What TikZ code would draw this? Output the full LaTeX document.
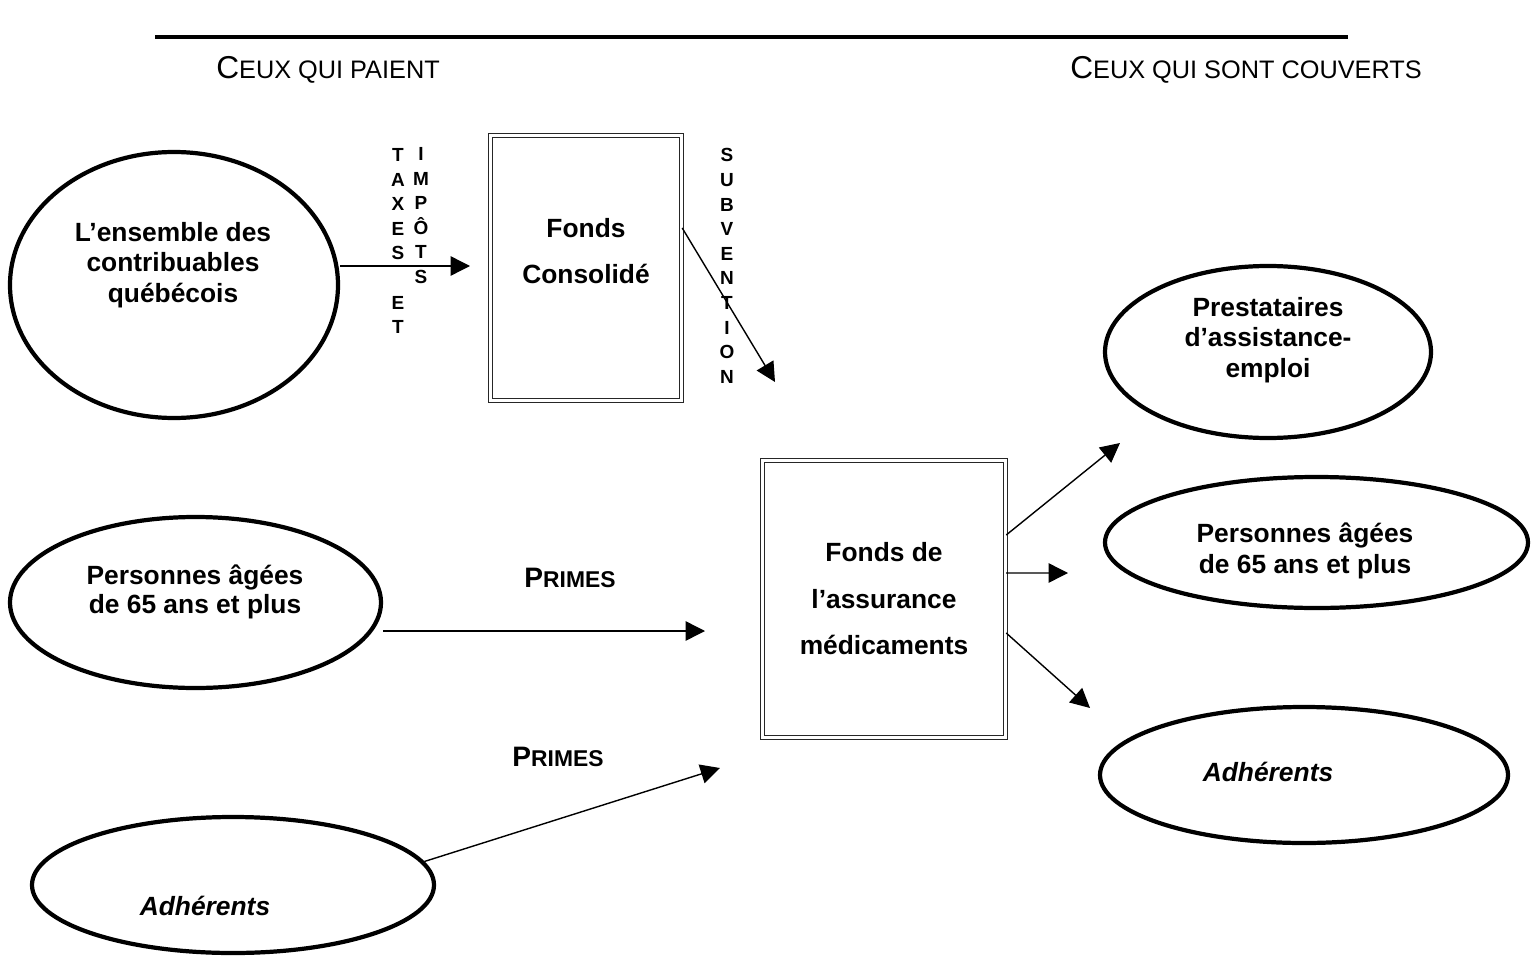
\documentclass[tikz,border=0pt]{standalone}
\usepackage{fontspec}
\setmainfont{Liberation Sans}
\usetikzlibrary{arrows.meta,positioning,calc,shapes.geometric}
\newcommand{\capsA}[1]{{\fontsize{18}{20}\selectfont #1}}
\newcommand{\capsB}[1]{{\fontsize{16}{18}\selectfont #1}}

\begin{document}
\begin{tikzpicture}[
    oval/.style={ellipse, draw, line width=2.4pt, inner sep=0pt},
    ovaltext/.style={align=center, font=\bfseries\fontsize{15}{17.5}\selectfont},
    fund/.style={rectangle, draw=black!85, double, line width=0.8pt, double distance=1.5pt, align=center, font=\bfseries\fundfont},
    fundtext/.style={align=center, font=\bfseries\fundfont},
    letters/.style={align=center, font=\bfseries\fontsize{10.8}{14}\selectfont},
    heading/.style={font=\fontsize{14.4}{16}\selectfont},
    flow/.style={-{Triangle[length=11pt, width=11pt]}, line width=0.8pt}
]
    \def\fundfont{\fontsize{15}{26.5}\selectfont}
    \useasboundingbox (0,0) rectangle (30.78,-19.52);

    % title rule and headings
    \coordinate (ruleL) at (3.1,-0.74);
    \coordinate (ruleR) at (26.96,-0.74);
    \draw[line width=2pt] (ruleL) -- (ruleR);
    \node[heading] (payers) at (6.56,-1.4) {\capsA{C}EUX QUI PAIENT};
    \node[heading] (covered) at (24.92,-1.4) {\capsA{C}EUX QUI SONT COUVERTS};

    % those who pay
    \node[oval, minimum width=6.56cm, minimum height=5.32cm] (contrib) at (3.48,-5.7) {};
    \node[ovaltext] (contribtxt) at (3.46,-5.3) {L’ensemble des\\contribuables\\québécois};
    \node[oval, minimum width=7.42cm, minimum height=3.42cm] (persL) at (3.91,-12.05) {};
    \node[ovaltext, font=\bfseries\fontsize{15}{16.5}\selectfont] (persLtxt) at (3.9,-11.84) {Personnes âgées\\de 65 ans et plus};
    \node[oval, minimum width=8.04cm, minimum height=2.72cm] (adhL) at (4.66,-17.7) {};
    \node[ovaltext, font=\bfseries\itshape\fontsize{15}{17.5}\selectfont] (adhLtxt) at (4.1,-18.12) {Adhérents};

    % funds
    \node[fund, minimum width=3.82cm, minimum height=5.3cm] (consol) at (11.72,-5.36) {};
    \node[fundtext] (consoltxt) at (11.72,-5.02) {Fonds\\Consolidé};
    \node[fund, minimum width=4.86cm, minimum height=5.54cm] (fam) at (17.68,-11.98) {Fonds de\\l’assurance\\médicaments};

    % those who are covered
    \node[oval, minimum width=6.52cm, minimum height=3.44cm] (prest) at (25.36,-7.04) {};
    \node[ovaltext] (presttxt) at (25.36,-6.8) {Prestataires\\d’assistance-\\emploi};
    \node[oval, minimum width=8.46cm, minimum height=2.62cm] (persR) at (26.33,-10.85) {};
    \node[ovaltext, font=\bfseries\fontsize{15}{18}\selectfont] (persRtxt) at (26.1,-11.02) {Personnes âgées\\de 65 ans et plus};
    \node[oval, minimum width=8.16cm, minimum height=2.72cm] (adhR) at (26.08,-15.5) {};
    \node[ovaltext, font=\bfseries\itshape\fontsize{15}{17.5}\selectfont] (adhRtxt) at (25.36,-15.44) {Adhérents};

    % vertical labels
    \node[letters] (taxes) at (7.96,-4.82) {T\\A\\X\\E\\S\\~\\E\\T};
    \node[letters] (impots) at (8.42,-4.31) {I\\M\\P\\Ô\\T\\S};
    \node[letters] (subv) at (14.54,-5.32) {S\\U\\B\\V\\E\\N\\T\\I\\O\\N};

    % premium labels
    \node[heading, font=\bfseries\fontsize{13}{14}\selectfont] (primes1) at (11.4,-11.56) {\capsB{P}RIMES};
    \node[heading, font=\bfseries\fontsize{13}{14}\selectfont] (primes2) at (11.16,-15.14) {\capsB{P}RIMES};

    % arrow tips
    \coordinate (taxtip) at (9.4,-5.32);
    \coordinate (subtip) at (15.5,-7.64);
    \coordinate (primtip1) at (14.1,-12.62);
    \coordinate (primtip2) at (14.4,-15.36);
    \coordinate (presttip) at (22.4,-8.86);
    \coordinate (persRtip) at (21.36,-11.46);
    \coordinate (adhRtip) at (21.8,-14.16);

    % flows
    \draw[flow] (taxtip -| contrib.east) -- (taxtip);
    \draw[flow] ([yshift=8mm]consol.east) -- (subtip);
    \draw[flow] (primtip1 -| persL.east) -- (primtip1);
    \draw[flow] (adhL.7) -- (primtip2);
    \draw[flow] ([yshift=12.8mm]fam.east) -- (presttip);
    \draw[flow] ([yshift=5.2mm]fam.east) -- (persRtip);
    \draw[flow] ([yshift=-6.8mm]fam.east) -- (adhRtip);
\end{tikzpicture}
\end{document}
